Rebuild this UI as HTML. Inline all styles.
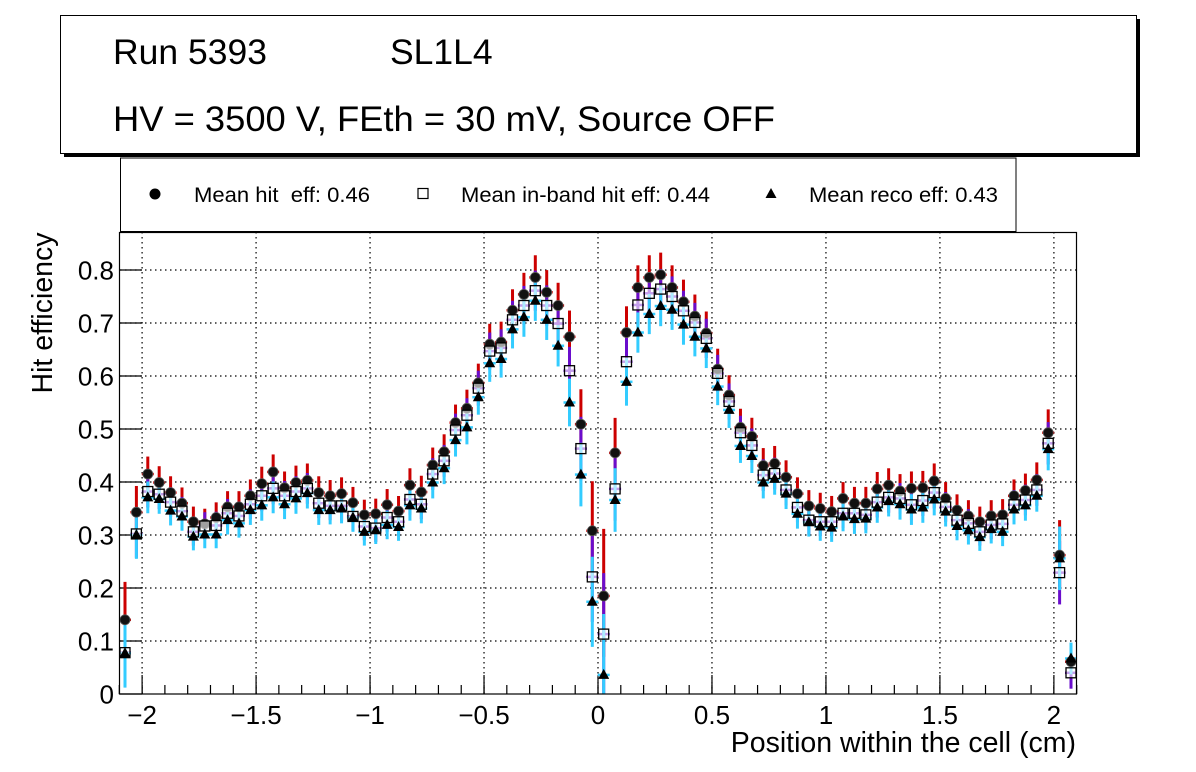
<!DOCTYPE html>
<html><head><meta charset="utf-8">
<style>
body{margin:0;background:#fff;}
svg{display:block;font-family:"Liberation Sans",Arial,sans-serif;}
</style></head>
<body>
<svg id="chart" width="1196" height="772" viewBox="0 0 1196 772" xmlns="http://www.w3.org/2000/svg">
  <rect x="64" y="19" width="1076" height="138" fill="#000"/>
  <rect x="60.5" y="15.5" width="1076" height="138" fill="#fff" stroke="#000" stroke-width="1"/>
  <text x="113" y="64" font-size="35.5">Run 5393</text>
  <text x="390" y="64" font-size="35.5">SL1L4</text>
  <text x="113" y="131" font-size="35.5" textLength="662" lengthAdjust="spacingAndGlyphs">HV = 3500 V, FEth = 30 mV, Source OFF</text>
  <g>
    <rect x="120.5" y="158" width="895.5" height="73.5" fill="#fff" stroke="#000" stroke-width="1"/>
    <g>
      <circle cx="155" cy="194" r="5.5" fill="#000"/>
      <text x="194" y="202" font-size="21.5" style="white-space:pre" xml:space="preserve" textLength="176" lengthAdjust="spacingAndGlyphs">Mean hit  eff: 0.46</text>
    </g>
    <g>
      <rect x="418" y="188.5" width="10" height="10" fill="#fff" stroke="#000" stroke-width="1.2"/>
      <text x="461" y="202" font-size="21.5" textLength="249" lengthAdjust="spacingAndGlyphs">Mean in-band hit eff: 0.44</text>
    </g>
    <g>
      <polygon points="771,188 776.5,198 765.5,198" fill="#000"/>
      <text x="809" y="202" font-size="21.5" textLength="189" lengthAdjust="spacingAndGlyphs">Mean reco eff: 0.43</text>
    </g>
  </g>
  <g id="grid"></g>
  <g id="axes"></g>
  <g id="marks"></g>
  <rect x="119.5" y="232.5" width="957" height="461.5" fill="none" stroke="#000" stroke-width="1.2"/>
  <text x="1076" y="752" font-size="28.5" text-anchor="end">Position within the cell (cm)</text>
  <text transform="translate(52,313) rotate(-90)" font-size="28.5" text-anchor="middle">Hit efficiency</text>
</svg>
<script>
const hitEff = [0.140,0.343,0.415,0.399,0.380,0.360,0.325,0.321,0.333,0.353,0.353,0.374,0.397,0.419,0.389,0.399,0.403,0.380,0.374,0.378,0.361,0.338,0.340,0.357,0.345,0.394,
0.381,0.432,0.457,0.512,0.539,0.587,0.660,0.664,0.724,0.754,0.786,0.758,0.733,0.674,0.509,0.308,0.185,0.455,0.682,0.767,
0.786,0.791,0.767,0.740,0.713,0.681,0.613,0.564,0.503,0.486,0.431,0.435,0.409,0.378,0.355,0.350,0.344,0.369,0.360,0.360,0.387,0.394,0.383,0.388,0.389,0.402,0.369,0.347,0.336,0.325,0.336,0.338,0.374,0.384,0.404,0.493,0.262,0.061];
const inbandEff = [0.078,0.302,0.382,0.377,0.362,0.345,0.306,0.317,0.318,0.341,0.336,0.358,0.374,0.388,0.374,0.382,0.388,0.360,0.355,0.355,0.335,0.316,0.313,0.333,0.325,0.367,
0.358,0.415,0.440,0.498,0.526,0.577,0.647,0.653,0.706,0.733,0.761,0.733,0.699,0.610,0.463,0.221,0.113,0.387,0.627,0.734,
0.756,0.764,0.750,0.723,0.701,0.671,0.605,0.552,0.493,0.469,0.413,0.416,0.385,0.352,0.328,0.325,0.325,0.341,0.341,0.338,0.362,0.371,0.369,0.357,0.365,0.380,0.353,0.328,0.322,0.306,0.319,0.321,0.357,0.366,0.385,0.473,0.229,0.040];
const recoEff = [0.077,0.300,0.371,0.368,0.346,0.335,0.297,0.301,0.301,0.328,0.322,0.347,0.356,0.371,0.358,0.369,0.379,0.347,0.347,0.350,0.333,0.306,0.309,0.319,0.315,0.356,
0.350,0.399,0.426,0.479,0.503,0.560,0.624,0.632,0.688,0.711,0.742,0.706,0.657,0.550,0.414,0.174,0.036,0.366,0.589,0.682,
0.717,0.732,0.725,0.697,0.674,0.652,0.580,0.536,0.468,0.449,0.399,0.406,0.378,0.340,0.324,0.316,0.314,0.335,0.330,0.331,0.352,0.364,0.358,0.348,0.352,0.367,0.344,0.317,0.309,0.296,0.311,0.306,0.348,0.356,0.374,0.462,0.256,0.067];
const errSize = [0.065,0.045,0.030,0.028,0.028,0.027,0.026,0.026,0.026,0.027,0.027,0.028,0.029,0.030,0.028,0.029,0.029,0.028,0.027,0.028,0.027,0.026,0.026,0.027,0.026,0.029,
0.028,0.030,0.030,0.031,0.032,0.033,0.035,0.035,0.036,0.037,0.038,0.038,0.039,0.045,0.060,0.085,0.115,0.060,0.045,0.038,
0.038,0.038,0.038,0.038,0.037,0.037,0.035,0.034,0.032,0.032,0.030,0.030,0.029,0.028,0.027,0.027,0.027,0.028,0.028,0.028,0.029,0.029,0.029,0.029,0.029,0.030,0.028,0.027,0.027,0.026,0.027,0.027,0.028,0.029,0.030,0.040,0.060,0.030];
const xTicks = [-2,-1.5,-1,-0.5,0,0.5,1,1.5,2];
const xTickLabels = ["\u22122","\u22121.5","\u22121","\u22120.5","0","0.5","1","1.5","2"];
const yTicks = [0,0.1,0.2,0.3,0.4,0.5,0.6,0.7,0.8];
const yTickLabels = ["0","0.1","0.2","0.3","0.4","0.5","0.6","0.7","0.8"];
const binStart = -2.075, binWidth = 0.05;

const X0=119.3, X1=1076.7, XMIN=-2.1, XMAX=2.1, Y0=694, YPX=530;
function sx(v){return X0+(v-XMIN)/(XMAX-XMIN)*(X1-X0);}
function sy(v){return Y0-v*YPX;}
const NS='http://www.w3.org/2000/svg';
function mk(tag,attrs,parent){const e=document.createElementNS(NS,tag);for(const k in attrs)e.setAttribute(k,attrs[k]);parent.appendChild(e);return e;}
const grid=document.getElementById('grid'), axes=document.getElementById('axes'), marks=document.getElementById('marks');

xTicks.forEach((t,i)=>{
  const x=sx(t);
  const g=mk('line',{x1:x,x2:x,y1:232,y2:694,stroke:'#000','stroke-width':1.2,'stroke-dasharray':'1.5,3.5'},grid);
  
  
  const tk=mk('line',{x1:x,x2:x,y1:694,y2:675,stroke:'#000','stroke-width':1.2},axes);
  
  
  const lb=mk('text',{x:x,y:724,'font-size':26,'text-anchor':'middle'},axes);
  lb.textContent=xTickLabels[i];
  
  
});
for(let v=-2.1;v<=2.101;v+=0.1){
  const x=sx(v);
  const m=mk('line',{x1:x,x2:x,y1:694,y2:685,stroke:'#000','stroke-width':1.2},axes);
  
  
}
yTicks.forEach((t,i)=>{
  const y=sy(t);
  if(t>0){
    const g=mk('line',{x1:120,x2:1076,y1:y,y2:y,stroke:'#000','stroke-width':1.2,'stroke-dasharray':'1.5,3.5'},grid);
    
    
  }
  const tk=mk('line',{x1:120,x2:142,y1:y,y2:y,stroke:'#000','stroke-width':1.2},axes);
  
  
  const lb=mk('text',{x:114,y:y+9.5,'font-size':26,'text-anchor':'end'},axes);
  lb.textContent=yTickLabels[i];
  
  
});

function errBars(vals,scaleUp,color,name){
  vals.forEach((v,k)=>{
    const x=sx(binStart+k*binWidth);
    const e=errSize[k];
    const l=mk('line',{x1:x,x2:x,y1:sy(Math.min(v+e*scaleUp,0.87)),y2:Math.min(sy(Math.max(v-e,0)),694),stroke:color,'stroke-width':3},marks);
    
    
    const h=mk('line',{x1:x-6,x2:x+6,y1:sy(v),y2:sy(v),stroke:color,'stroke-width':2.5},marks);
    
    
  });
}
errBars(hitEff,1.1,'#cc0000','hit-eff');
errBars(inbandEff,1.0,'#6a0dcc','inband-eff');
errBars(recoEff,1.0,'#33ccff','reco-eff');

hitEff.forEach((v,k)=>{
  const c=mk('circle',{cx:sx(binStart+k*binWidth),cy:sy(v),r:5,fill:'#111',stroke:'#555','stroke-width':0.8},marks);
  
  
});
inbandEff.forEach((v,k)=>{
  const x=sx(binStart+k*binWidth), y=sy(v);
  const r=mk('rect',{x:x-5,y:y-5,width:10,height:10,fill:'#fff','fill-opacity':0.6,stroke:'#000','stroke-width':1.3},marks);
  
  
});
recoEff.forEach((v,k)=>{
  const x=sx(binStart+k*binWidth), y=sy(v);
  const p=mk('polygon',{points:`${x},${y-6} ${x+5.5},${y+4} ${x-5.5},${y+4}`,fill:'#000'},marks);
  
  
});
</script>
</body></html>
